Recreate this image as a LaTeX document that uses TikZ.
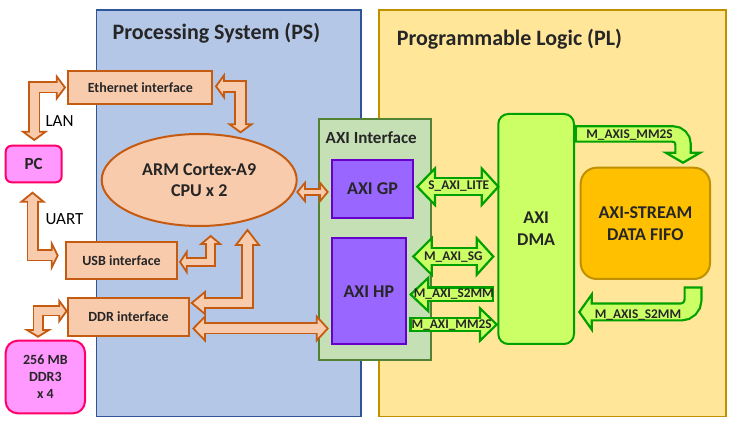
\documentclass[tikz,border=0pt]{standalone}
\usepackage{fontspec}
\setmainfont{Carlito}
\usetikzlibrary{shapes.geometric}
\definecolor{txt}{RGB}{38,38,38}
\definecolor{psfill}{HTML}{B4C7E7}
\definecolor{psline}{HTML}{2F5597}
\definecolor{plfill}{HTML}{FFE699}
\definecolor{plline}{HTML}{BF9000}
\definecolor{ofill}{HTML}{F8CBAD}
\definecolor{oline}{HTML}{C55A11}
\definecolor{pfill}{HTML}{FF99FF}
\definecolor{pline}{HTML}{FF0066}
\definecolor{axfill}{HTML}{C5E0B4}
\definecolor{axline}{HTML}{548235}
\definecolor{vfill}{HTML}{9966FF}
\definecolor{vline}{HTML}{6600CC}
\definecolor{gfill}{HTML}{CCFF66}
\definecolor{gline}{RGB}{0,160,0}
\definecolor{ffill}{HTML}{FFC000}
\definecolor{fline}{HTML}{BF9000}
\newcommand\ahR[5]{\filldraw[#1] (#2,#3) -- ({#2-#5},{#3-#4}) -- ({#2-#5},{#3+#4}) -- cycle;}
\newcommand\ahL[5]{\filldraw[#1] (#2,#3) -- ({#2+#5},{#3-#4}) -- ({#2+#5},{#3+#4}) -- cycle;}
\newcommand\ahD[5]{\filldraw[#1] (#2,#3) -- ({#2-#4},{#3-#5}) -- ({#2+#4},{#3-#5}) -- cycle;}
\newcommand\ahU[5]{\filldraw[#1] (#2,#3) -- ({#2-#4},{#3+#5}) -- ({#2+#4},{#3+#5}) -- cycle;}
\begin{document}
\begin{tikzpicture}[x=1pt,y=-1pt,
  bx/.style={draw, inner sep=0pt, line width=2pt, text=txt, font=\fontsize{14}{17}\selectfont\bfseries, align=center},
  obox/.style={bx, fill=ofill, draw=oline},
  pbox/.style={bx, fill=pfill, draw=pline, rounded corners=#1},
  vbox/.style={bx, fill=vfill, draw=vline, font=\fontsize{18}{21}\selectfont\bfseries},
  ohead/.style={fill=ofill, draw=oline, line width=1.8pt, line join=miter},
  ghead/.style={fill=gfill, draw=gline, line width=2.2pt, line join=miter},
  oout/.style={draw=oline, line join=miter, line width=#1},
  oin/.style={draw=ofill, line join=miter, line width=#1},
  gout/.style={draw=gline, line join=miter, line width=#1},
  gin/.style={draw=gfill, line join=miter, line width=#1},
  glab/.style={inner sep=0pt, text=txt, font=\fontsize{13.3}{15}\selectfont\bfseries},
  ttl/.style={inner sep=0pt, text=txt, font=\fontsize{22}{26}\selectfont\bfseries},
  plain/.style={inner sep=0pt, text=black, font=\fontsize{17}{20}\selectfont}]
\useasboundingbox (0,0) rectangle (734,427);
\fill[white] (0,0) rectangle (734,427);
% regions
\node[draw=psline, fill=psfill, line width=1.5pt, minimum width=264.3pt, minimum height=406.7pt, inner sep=0pt] (ps) at (228.8,213.3) {};
\node[draw=plline, fill=plfill, line width=1.5pt, minimum width=347pt, minimum height=406.7pt, inner sep=0pt] (pl) at (552.5,213.3) {};
\node[ttl, anchor=base west] (pst) at (112.5,39.5) {Processing System (PS)};
\node[ttl, anchor=base west] (plt) at (396.6,46) {Programmable Logic (PL)};
% PS side boxes
\node[obox, minimum width=144pt, minimum height=33.3pt] (eth) at (140.3,87.35) {Ethernet interface};
\node[obox, ellipse, minimum width=195pt, minimum height=92pt, font=\fontsize{18}{21}\selectfont\bfseries] (cpu) at (199.2,180) {ARM Cortex-A9\\CPU x 2};
\node[obox, minimum width=111.6pt, minimum height=37.3pt] (usb) at (121.5,260.65) {USB interface};
\node[obox, minimum width=121.6pt, minimum height=38.3pt] (ddr) at (128.5,316.85) {DDR interface};
\node[pbox=6pt, minimum width=56pt, minimum height=36.6pt, font=\fontsize{17}{20}\selectfont\bfseries] (pc) at (33.7,164) {PC};
\node[pbox=12pt, minimum width=79.3pt, minimum height=72.6pt] (mem) at (45.35,377) {256 MB\\DDR3\\x 4};
\node[plain] (lan) at (59.5,121) {LAN};
\node[plain] (uart) at (64.5,219.5) {UART};
% AXI interface
\node[bx, fill=axfill, draw=axline, minimum width=111.7pt, minimum height=241pt] (axi) at (375.15,239.5) {};
\node[inner sep=0pt, text=txt, font=\fontsize{17}{20}\selectfont\bfseries, anchor=west] (axit) at (325.5,137.7) {AXI Interface};
\node[vbox, minimum width=81.6pt, minimum height=58.3pt] (gp) at (372.5,189.15) {AXI GP};
\node[vbox, minimum width=74.3pt, minimum height=106pt] (hp) at (368.85,291.3) {AXI HP};
% PL boxes
\node[bx, fill=gfill, draw=gline, rounded corners=10pt, minimum width=75.7pt, minimum height=230pt, font=\fontsize{18}{21.7}\selectfont\bfseries] (dma) at (536.15,229) {AXI\\DMA};
\node[bx, fill=ffill, draw=fline, rounded corners=16pt, minimum width=129.3pt, minimum height=111.3pt, font=\fontsize{18}{21.7}\selectfont\bfseries] (fifo) at (645.35,223.35) {AXI-STREAM\\DATA FIFO};
% ---- orange block arrows ----
% LAN
\draw[oout=12pt] (34.3,132.7) -- (34.3,87.5) -- (57.7,87.5);
\ahD{ohead}{34.3}{140}{11.3}{8.3}
\ahR{ohead}{65}{87.5}{11}{8.3}
\draw[oin=8.4pt] (34.3,133.7) -- (34.3,87.5) -- (58.7,87.5);
% Ethernet - CPU
\draw[oout=13pt] (223,86.3) -- (240.5,86.3) -- (240.5,125.3);
\ahL{ohead}{216}{86.3}{11}{8}
\ahD{ohead}{240.5}{132.3}{11}{8}
\draw[oin=9.4pt] (222,86.3) -- (240.5,86.3) -- (240.5,126.3);
% UART
\draw[oout=12pt] (32.5,200.7) -- (32.5,255.5) -- (52.7,255.5);
\ahU{ohead}{32.5}{192.7}{11}{9}
\ahR{ohead}{57.7}{255.5}{12}{6}
\draw[oin=8.4pt] (32.5,199.7) -- (32.5,255.5) -- (53.7,255.5);
% USB - CPU
\draw[oout=10.5pt] (185.7,262) -- (210.7,262) -- (210.7,243);
\ahL{ohead}{180}{262}{10}{6.7}
\ahU{ohead}{210.7}{236}{9.5}{8}
\draw[oin=6.9pt] (184.7,262) -- (210.7,262) -- (210.7,242);
% CPU - DDR
\draw[oout=12.5pt] (204,303) -- (247.5,303) -- (247.5,244);
\ahL{ohead}{191.7}{303}{11}{13.3}
\ahU{ohead}{247.5}{230}{11.5}{15}
\draw[oin=8.9pt] (203,303) -- (247.5,303) -- (247.5,243);
% DDR - AXI HP
\draw[oout=12pt] (204,328.5) -- (317.7,328.5);
\ahL{ohead}{193.3}{328.5}{12}{11.7}
\ahR{ohead}{327.7}{328.5}{12}{11}
\draw[oin=8.4pt] (203,328.5) -- (318.7,328.5);
% DDR - memory
\draw[oout=11pt] (60.3,311) -- (38,311) -- (38,331);
\ahR{ohead}{66.7}{311}{10}{7.4}
\ahD{ohead}{38}{336.7}{11}{6.7}
\draw[oin=7.4pt] (61.3,311) -- (38,311) -- (38,332);
% CPU - AXI GP
\draw[oout=8.5pt] (304,192) -- (321,192);
\ahL{ohead}{297.3}{192}{9.2}{7.7}
\ahR{ohead}{327.7}{192}{9.2}{7.7}
\draw[oin=4.9pt] (303,192) -- (322,192);
% ---- green block arrows ----
% S_AXI_LITE
\draw[gout=19pt] (434,186.7) -- (482.7,186.7);
\ahL{ghead}{417.3}{186.7}{18.3}{17.7}
\ahR{ghead}{498.3}{186.7}{18.3}{16.6}
\draw[gin=14.6pt] (433,186.7) -- (483.7,186.7);
% M_AXI_SG
\draw[gout=19pt] (430.7,256.5) -- (477.7,256.5);
\ahL{ghead}{413.3}{256.5}{18.3}{18.4}
\ahR{ghead}{493.3}{256.5}{18.3}{16.6}
\draw[gin=14.6pt] (429.7,256.5) -- (478.7,256.5);
% M_AXI_S2MM
\draw[gout=16pt] (427.3,294.5) -- (494,294.5);
\ahL{ghead}{410.7}{294.5}{16.7}{17.6}
\draw[gin=11.6pt] (426.3,294.5) -- (491.8,294.5);
% M_AXI_MM2S
\draw[gout=15.5pt] (409.3,324.5) -- (481,324.5);
\ahR{ghead}{496.7}{324.5}{16.2}{16.7}
\draw[gin=11.1pt] (411.5,324.5) -- (482,324.5);
% M_AXIS_MM2S
\draw[gout=17.5pt, rounded corners=10pt] (575,134) -- (683,134) -- (683,153.7);
\ahD{ghead}{683}{162.7}{17.2}{10}
\draw[gin=13.1pt, rounded corners=10pt] (577.2,134) -- (683,134) -- (683,154.7);
% M_AXIS_S2MM
\draw[gout=19pt, rounded corners=12pt] (693,286.5) -- (693,312) -- (590.7,312);
\ahL{ghead}{579.3}{312}{17.5}{12.4}
\draw[gin=14.6pt, rounded corners=12pt] (693,288.7) -- (693,312) -- (589.7,312);
% labels
\node[glab] (l1) at (458.7,186.5) {S\_AXI\_LITE};
\node[glab] (l2) at (453.3,256.7) {M\_AXI\_SG};
\node[glab] (l3) at (453.8,294.5) {M\_AXI\_S2MM};
\node[glab] (l4) at (451.7,325) {M\_AXI\_MM2S};
\node[glab] (l5) at (629.5,135) {M\_AXIS\_MM2S};
\node[glab] (l6) at (638,315) {M\_AXIS\_S2MM};
\end{tikzpicture}
\end{document}
